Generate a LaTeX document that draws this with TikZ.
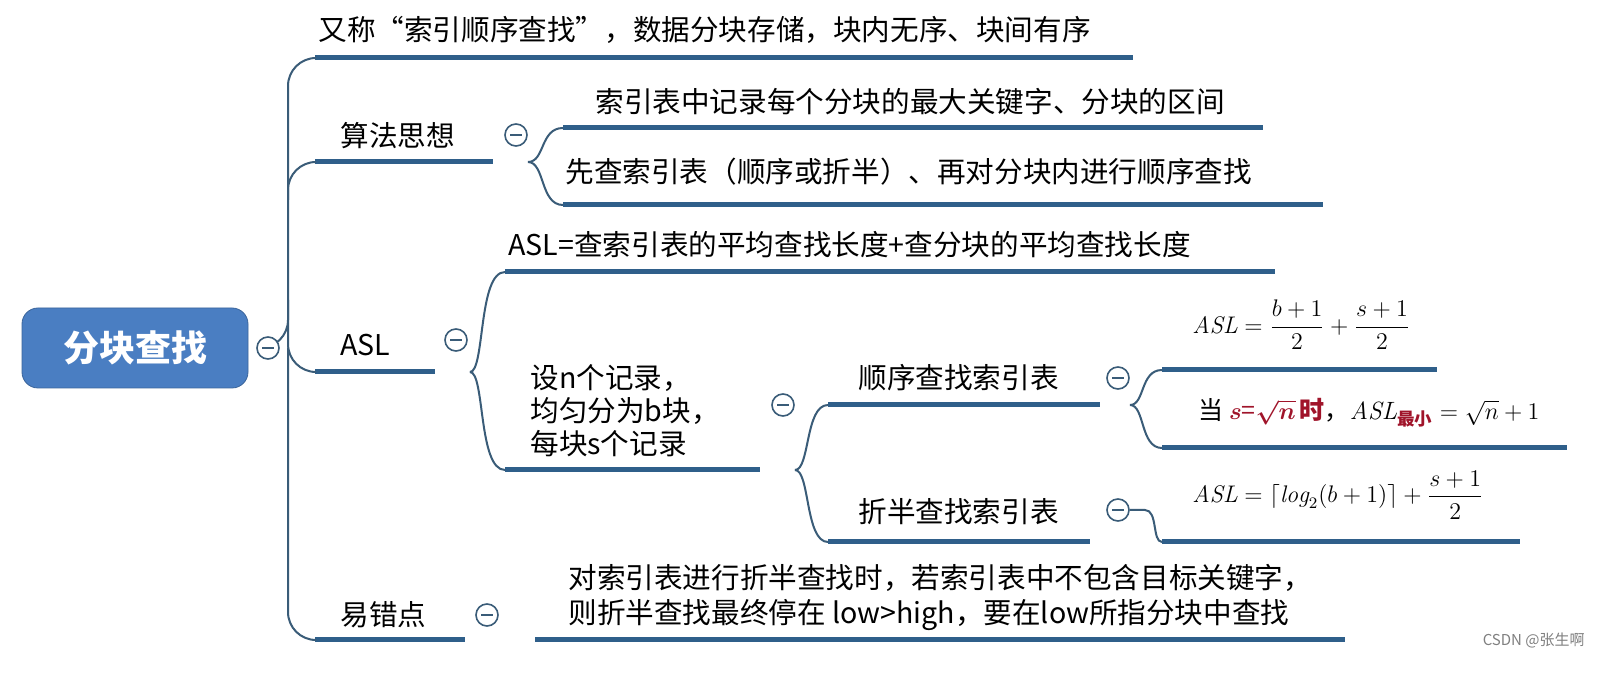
\documentclass[tikz,border=0pt]{standalone}
\usepackage{fontspec}
\usepackage{amsmath}
\newfontfamily\cjk{Noto Sans CJK SC}
\definecolor{ln}{HTML}{2F5F8A}
\definecolor{cv}{HTML}{3A5C78}
\definecolor{rootc}{HTML}{4A7EC2}
\definecolor{red1}{HTML}{A0142A}
\tikzset{
 ul/.style={draw=ln,line width=2.5pt},
 cn/.style={draw=cv,line width=1pt,rounded corners=14pt},
 cc/.style={draw=cv,line width=1pt},
 tx/.style={anchor=west,inner sep=0pt,font=\cjk\fontsize{14.3}{17}\selectfont,text=black,align=left},
 mc/.style={circle,draw=cv,line width=0.8pt,minimum size=11pt,inner sep=0pt,fill=white,
   path picture={\draw[cv,line width=0.8pt] ([xshift=-3pt]path picture bounding box.center)--([xshift=3pt]path picture bounding box.center);}},
}
\begin{document}
\begin{tikzpicture}[x=0.5pt,y=-0.5pt]
\useasboundingbox[fill=white] (0,0) rectangle (1597,673);
% underlines
\coordinate (u1a) at (315,58); \coordinate (u1b) at (1133,58);
\coordinate (u2a) at (315,162); \coordinate (u2b) at (493,162);
\coordinate (u3a) at (315,372); \coordinate (u3b) at (435,372);
\coordinate (u4a) at (315,640); \coordinate (u4b) at (465,640);
\foreach \a/\b in {u1a/u1b,u2a/u2b,u3a/u3b,u4a/u4b} \draw[ul] (\a)--(\b);
% trunk
\coordinate (j0) at (288,348);
\draw[cn] (262,348)--(j0)--(288,58)--(u1a);
\draw[cn] (j0)--(288,640)--(u4a);
\draw[cn] (288,200)--(288,162)--(u2a);
\draw[cn] (288,300)--(288,372)--(u3a);
% root
\node[draw=rootc!80!black,fill=rootc,rounded corners=8pt,minimum width=113pt,minimum height=40pt,font=\cjk\fontsize{18}{20}\selectfont\bfseries,text=white] (root) at (135,348) {分块查找};
\node[mc] (c0) at (268,348) {};
\node[tx] (t1) at (318,30) {又称“索引顺序查找”，数据分块存储，块内无序、块间有序};
\node[tx] (t2) at (340,136) {算法思想};
\node[tx] (t3) at (340,345) {ASL};
\node[tx] (t4) at (340,615) {易错点};
% branch 2
\coordinate (a1) at (563,128); \coordinate (a1b) at (1263,128);
\coordinate (a2) at (563,205); \coordinate (a2b) at (1323,205);
\draw[ul] (a1)--(a1b); \draw[ul] (a2)--(a2b);
\coordinate (j2) at (528,162);
\draw[cc] (j2) .. controls (545,162) and (540,128) .. (a1);
\draw[cc] (j2) .. controls (545,162) and (540,205) .. (a2);
\node[mc] (c2) at (516,135) {};
\node[tx] at (595,102) {索引表中记录每个分块的最大关键字、分块的区间};
\node[tx] at (565,172) {先查索引表（顺序或折半）、再对分块内进行顺序查找};
% branch 3
\coordinate (b1) at (505,272); \coordinate (b1b) at (1275,272);
\coordinate (b2) at (505,470); \coordinate (b2b) at (760,470);
\draw[ul] (b1)--(b1b); \draw[ul] (b2)--(b2b);
\coordinate (j3) at (470,372);
\draw[cc] (j3) .. controls (485,372) and (478,272) .. (b1);
\draw[cc] (j3) .. controls (485,372) and (478,470) .. (b2);
\node[mc] (c3) at (456,340) {};
\node[tx] at (508,245) {ASL=查索引表的平均查找长度+查分块的平均查找长度};
\node[tx,font=\cjk\fontsize{14.3}{16.5}\selectfont] at (530,411) {设n个记录，\\均匀分为b块，\\每块s个记录};
\coordinate (d1) at (828,405); \coordinate (d1b) at (1100,405);
\coordinate (d2) at (828,542); \coordinate (d2b) at (1090,542);
\draw[ul] (d1)--(d1b); \draw[ul] (d2)--(d2b);
\coordinate (j4) at (795,470);
\draw[cc] (j4) .. controls (810,470) and (805,405) .. (d1);
\draw[cc] (j4) .. controls (810,470) and (805,542) .. (d2);
\node[mc] (c4) at (783,405) {};
\node[tx] at (858,378) {顺序查找索引表};
\node[tx] at (858,512) {折半查找索引表};
\coordinate (e1) at (1162,370); \coordinate (e1b) at (1437,370);
\coordinate (e2) at (1162,448); \coordinate (e2b) at (1567,448);
\coordinate (e3) at (1162,542); \coordinate (e3b) at (1520,542);
\draw[ul] (e1)--(e1b); \draw[ul] (e2)--(e2b); \draw[ul] (e3)--(e3b);
\coordinate (j5) at (1130,405);
\draw[cc] (j5) .. controls (1145,405) and (1140,370) .. (e1);
\draw[cc] (j5) .. controls (1145,405) and (1140,448) .. (e2);
\node[mc] (c5) at (1118,378) {};
\node[mc] (c6) at (1118,510) {};
\draw[cc] (c6.east)--(1145,510) .. controls (1158,510) and (1152,542) .. (e3);
\node[tx,font=\fontsize{12}{14}\selectfont] at (1192,325) {$\mathit{ASL}=\dfrac{b+1}{2}+\dfrac{s+1}{2}$};
\node[tx,font=\fontsize{12.5}{14}\selectfont] at (1198,413) {\cjk 当 \textcolor{red1}{$\boldsymbol{s}$=$\boldsymbol{\sqrt{n}}$\,\cjk\bfseries 时}，$\mathit{ASL}_{\text{\cjk\bfseries\textcolor{red1}{最小}}}=\sqrt{n}+1$};
\node[tx,font=\fontsize{12}{14}\selectfont] at (1192,495) {$\mathit{ASL}=\lceil \mathit{log}_2(b+1)\rceil+\dfrac{s+1}{2}$};
% branch 4
\coordinate (f1) at (535,640); \coordinate (f1b) at (1345,640);
\draw[ul] (f1)--(f1b);
\node[mc] (c7) at (487,615) {};
\node[tx,font=\cjk\fontsize{14.3}{17.5}\selectfont] at (568,597) {对索引表进行折半查找时，若索引表中不包含目标关键字，\\则折半查找最终停在 low>high，要在low所指分块中查找};
\node[anchor=east,inner sep=0pt,font=\cjk\fontsize{7.5}{9}\selectfont,text=gray] (wm) at (1585,640) {CSDN @张生啊};
\end{tikzpicture}
\end{document}
